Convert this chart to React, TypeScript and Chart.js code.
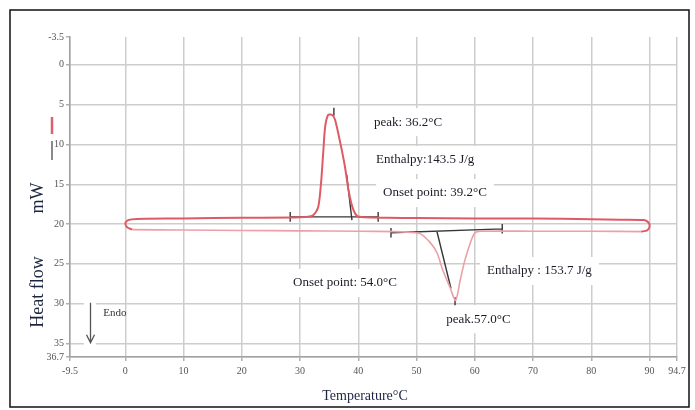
import React, { useEffect, useRef } from "react";
import { Chart, registerables } from "chart.js";

Chart.register(...registerables);

// ---- axis ticks ----
const xTicks = [-9.5, 0, 10, 20, 30, 40, 50, 60, 70, 80, 90, 94.7];
const yTicks = [-3.5, 0, 5, 10, 15, 20, 25, 30, 35, 36.7];

// ---- cooling run (upper, red) incl. end loops ----
const coolingT = [88.5, 89.6, 90.0, 89.8, 89.0, 85, 80, 70, 60, 50, 45, 41, 39.8, 39.0, 38.3, 37.7, 36.9, 36.0, 35.5, 34.8, 34.3, 34.0, 33.6, 33.1, 32.2, 30, 20, 10, 2, 0.5, 0.0, 0.3, 1.2];
const coolingHF = [20.95, 20.8, 20.3, 19.8, 19.5, 19.45, 19.4, 19.3, 19.3, 19.25, 19.2, 19.15, 19.0, 17.9, 15.7, 12.8, 9.8, 6.9, 6.3, 6.3, 7.8, 10.7, 14.8, 17.9, 18.9, 19.15, 19.2, 19.3, 19.35, 19.5, 19.9, 20.4, 20.7];

// ---- heating run (lower, pink) ----
const heatingT = [1.2, 10, 20, 30, 40, 46, 49, 50.6, 52.3, 53.5, 54.5, 55.7, 56.7, 57.5, 58.3, 59.2, 60.0, 61, 70, 80, 88.5];
const heatingHF = [20.7, 20.75, 20.8, 20.85, 20.9, 20.95, 21.05, 21.2, 22.3, 23.6, 25.8, 27.9, 29.6, 27.0, 24.5, 22.4, 21.1, 20.9, 20.9, 20.9, 20.95];

// ---- analysis guide lines (null = gap) ----
const guideT = [28.3, 43.4, null, 28.3, 28.3, null, 43.4, 43.4, null, 38.0, 38.9, null, 35.8, 35.8, null,
  45.6, 64.7, null, 45.6, 45.6, null, 64.7, 64.7, null, 53.5, 55.9, null, 56.6, 56.6];
const guideHF = [19.1, 19.1, null, 18.5, 19.7, null, 18.5, 19.7, null, 13.8, 19.5, null, 5.4, 6.4, null,
  21.1, 20.6, null, 20.5, 21.7, null, 20.0, 21.2, null, 20.97, 28.1, null, 29.2, 30.2];

// ---- annotations ----
const labelTexts = ["peak: 36.2°C", "Enthalpy:143.5 J/g", "Onset point: 39.2°C", "Onset point: 54.0°C", "Enthalpy : 153.7 J/g", "peak.57.0°C"];
const labelT = [42.7, 43.05, 44.25, 28.8, 62.1, 55.1];
const labelHF = [7.2, 11.95, 16.1, 27.4, 25.9, 31.95];

const toPts = (xs: (number | null)[], ys: (number | null)[]) =>
  xs.map((x, i) => ({ x: x as any, y: ys[i] as any }));

const SERIF = '"Liberation Serif", "Times New Roman", serif';

const decor = {
  id: "decor",
  beforeDatasetsDraw(chart: any) {
    const { ctx, scales } = chart;
    const x = scales.x, y = scales.y;
    ctx.save();
    ctx.fillStyle = "#ffffff";
    ctx.font = `13px ${SERIF}`;
    labelTexts.forEach((t, i) => {
      const px = x.getPixelForValue(labelT[i]);
      const py = y.getPixelForValue(labelHF[i]);
      const w = ctx.measureText(t).width;
      ctx.fillRect(px - 7, py - 14, w + 14, 28);
    });
    // box behind Endo arrow
    const ax = x.getPixelForValue(-6.1);
    ctx.fillRect(ax - 6, y.getPixelForValue(29.5), 12, y.getPixelForValue(35.4) - y.getPixelForValue(29.5));
    ctx.restore();
  },
  afterDraw(chart: any) {
    const { ctx, scales } = chart;
    const x = scales.x, y = scales.y;
    ctx.save();
    // annotations
    ctx.fillStyle = "#1c1c28";
    ctx.font = `13px ${SERIF}`;
    ctx.textBaseline = "middle";
    ctx.textAlign = "left";
    labelTexts.forEach((t, i) => {
      ctx.fillText(t, x.getPixelForValue(labelT[i]), y.getPixelForValue(labelHF[i]));
    });
    // Endo
    ctx.font = `11px ${SERIF}`;
    ctx.fillStyle = "#333";
    ctx.fillText("Endo", x.getPixelForValue(-3.8), y.getPixelForValue(31.2));
    const ax = Math.round(x.getPixelForValue(-6.1)) + 0.5;
    const y1 = y.getPixelForValue(29.9), y2 = y.getPixelForValue(34.9);
    ctx.strokeStyle = "#555";
    ctx.lineWidth = 1.3;
    ctx.beginPath();
    ctx.moveTo(ax, y1); ctx.lineTo(ax, y2);
    ctx.moveTo(ax - 4, y2 - 8); ctx.lineTo(ax, y2); ctx.lineTo(ax + 4, y2 - 8);
    ctx.stroke();
    // legend marks
    ctx.lineWidth = 2.5;
    ctx.strokeStyle = "rgb(222,96,106)";
    ctx.beginPath(); ctx.moveTo(52, 117); ctx.lineTo(52, 134); ctx.stroke();
    ctx.lineWidth = 2;
    ctx.strokeStyle = "#8a8a8a";
    ctx.beginPath(); ctx.moveTo(52, 141); ctx.lineTo(52, 160); ctx.stroke();
    // axis titles
    ctx.fillStyle = "#1d2440";
    ctx.font = `18px ${SERIF}`;
    ctx.textAlign = "center";
    ctx.save();
    ctx.translate(38, 0);
    ctx.rotate(-Math.PI / 2);
    ctx.fillText("Heat flow", -292, 0);
    ctx.fillText("mW", -198, 0);
    ctx.restore();
    ctx.font = `14px ${SERIF}`;
    ctx.fillText("Temperature°C", 365, 396);
    // outer frame
    ctx.strokeStyle = "#111";
    ctx.lineWidth = 1.5;
    ctx.strokeRect(10, 10, 679, 397);
    ctx.restore();
  },
};

export default function App() {
  const ref = useRef<HTMLCanvasElement | null>(null);
  useEffect(() => {
    if (!ref.current) return;
    const chart = new Chart(ref.current, {
      type: "scatter",
      data: {
        datasets: [
          {
            label: "Heating",
            data: toPts(heatingT, heatingHF),
            showLine: true,
            borderColor: "rgb(236,160,166)",
            borderWidth: 1.6,
            pointRadius: 0,
            tension: 0.25,
          },
          {
            label: "Cooling",
            data: toPts(coolingT, coolingHF),
            showLine: true,
            borderColor: "rgb(222,90,100)",
            borderWidth: 2,
            pointRadius: 0,
            tension: 0.25,
          },
          {
            label: "Guides",
            data: toPts(guideT, guideHF),
            showLine: true,
            spanGaps: false,
            borderColor: "rgb(55,55,55)",
            borderWidth: 1.4,
            pointRadius: 0,
            tension: 0,
          },
        ],
      },
      options: {
        responsive: false,
        animation: false,
        layout: { padding: { top: 37, right: 18, left: 0, bottom: 0 } },
        plugins: { legend: { display: false }, tooltip: { enabled: false } },
        scales: {
          x: {
            type: "linear",
            min: -9.5,
            max: 94.7,
            afterBuildTicks: (axis: any) => {
              axis.ticks = xTicks.map((v) => ({ value: v }));
            },
            afterFit: (axis: any) => {
              axis.height = 53;
            },
            ticks: {
              autoSkip: false,
              maxRotation: 0,
              padding: 4,
              color: "#555",
              font: { family: SERIF, size: 10 },
              callback: (v: any) => String(v),
            },
            grid: { color: "#cdcdcd", lineWidth: 1.5, tickLength: 4, tickColor: "#b0b0b0" },
            border: { color: "#a0a0a0", width: 1.5 },
          },
          y: {
            type: "linear",
            reverse: true,
            min: -3.5,
            max: 36.7,
            afterBuildTicks: (axis: any) => {
              axis.ticks = yTicks.map((v) => ({ value: v }));
            },
            afterFit: (axis: any) => {
              axis.width = 70;
            },
            ticks: {
              autoSkip: false,
              padding: 2,
              color: "#555",
              font: { family: SERIF, size: 10 },
              callback: (v: any) => String(v),
            },
            grid: {
              color: (c: any) => (c.tick && c.tick.value === -3.5 ? "rgba(0,0,0,0)" : "#cdcdcd"),
              lineWidth: 1.5,
              tickLength: 4,
              tickColor: "#b0b0b0",
            },
            border: { color: "#a0a0a0", width: 1.5 },
          },
        },
      },
      plugins: [decor],
    } as any);
    return () => chart.destroy();
  }, []);
  return (
    <div style={{ position: "fixed", left: 0, top: 0, width: 695, height: 410, background: "#fff" }}>
      <canvas ref={ref} width={695} height={410} style={{ display: "block", width: 695, height: 410 }} />
    </div>
  );
}
